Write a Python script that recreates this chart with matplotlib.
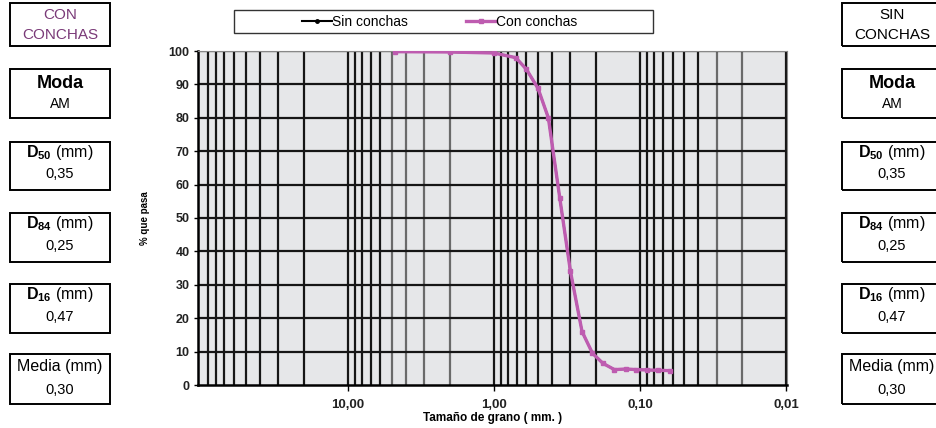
import numpy as np
import matplotlib.pyplot as plt
from matplotlib.patches import Rectangle
from matplotlib.ticker import FixedLocator, FuncFormatter, NullLocator

plt.rcParams['font.family'] = ['Liberation Sans', 'DejaVu Sans']
plt.rcParams['mathtext.fontset'] = 'custom'
plt.rcParams['mathtext.rm'] = 'Liberation Sans'
plt.rcParams['mathtext.bf'] = 'Liberation Sans:bold'

# curva granulométrica (tamaño en mm, % que pasa)
tamano = [4.75, 2.0, 1.0, 0.71, 0.6, 0.5, 0.425, 0.355, 0.3, 0.25,
          0.212, 0.18, 0.15, 0.125, 0.106, 0.09, 0.075, 0.063]
sin_conchas = [99.8, 99.7, 99.4, 98.0, 94.5, 88.8, 80.0, 56.0, 34.0, 16.0,
               9.5, 6.5, 4.6, 4.8, 4.6, 4.5, 4.4, 4.3]
con_conchas = [99.8, 99.7, 99.4, 98.0, 94.5, 88.8, 80.0, 56.0, 34.0, 16.0,
               9.5, 6.5, 4.6, 4.8, 4.6, 4.5, 4.4, 4.3]

# paneles laterales con los parámetros
titulos = ['Moda', r'$\mathbf{D_{50}}$ (mm)', r'$\mathbf{D_{84}}$ (mm)',
           r'$\mathbf{D_{16}}$ (mm)', 'Media (mm)']
valores_con = ['AM', '0,35', '0,25', '0,47', '0,30']
valores_sin = ['AM', '0,35', '0,25', '0,47', '0,30']

W, H = 937, 428
fig = plt.figure(figsize=(W / 100, H / 100), dpi=100)


def fx(px):
    return px / W


def fy(py):
    return 1 - py / H


ax = fig.add_axes([fx(198), fy(385), fx(787) - fx(198), fy(51) - fy(385)])
ax.set_facecolor('#E6E7E9')

ax.set_xscale('log')
ax.set_xlim(106, 0.0099)
ax.set_ylim(0, 100)

# rejilla: líneas en 1..9 x 10^k y cada 10 %
for dec in [10.0, 1.0, 0.1, 0.01]:
    for m in range(1, 10):
        v = m * dec
        if v <= 100:
            col = '#161616'
            if dec == 1.0 and m in (2, 3, 4, 5):
                col = '#6a6a6a'
            if dec == 0.01 and m in (2, 3):
                col = '#6a6a6a'
            ax.axvline(v, color=col, lw=1.6, zorder=1)
for yv in range(10, 101, 10):
    ax.axhline(yv, color='#161616', lw=1.6, zorder=1)

ax.plot(tamano, sin_conchas, color='black', lw=1.5, marker='o', ms=2.5,
        label='Sin conchas', zorder=3)
ax.plot(tamano, con_conchas, color='#BE5CB0', lw=2.4, marker='s', ms=2.6,
        label='Con conchas', zorder=4)

ax.xaxis.set_major_locator(FixedLocator([10, 1, 0.1, 0.01]))
ax.xaxis.set_minor_locator(NullLocator())
ax.xaxis.set_major_formatter(FuncFormatter(lambda v, p: f'{v:.2f}'.replace('.', ',')))
ax.set_yticks(range(0, 101, 10))
ax.tick_params(axis='x', direction='out', length=4, width=1, pad=6, labelsize=9.5)
ax.tick_params(axis='y', direction='out', length=3, width=1, pad=3, labelsize=9)
for lab in ax.get_xticklabels() + ax.get_yticklabels():
    lab.set_fontweight('bold')
    lab.set_color('#222222')

for s in ['left', 'bottom']:
    ax.spines[s].set_color('black')
    ax.spines[s].set_linewidth(1.8)
for s in ['top', 'right']:
    ax.spines[s].set_color('#888888')
    ax.spines[s].set_linewidth(0.8)

ax.set_xlabel('Tamaño de grano ( mm. )', fontsize=8.5, fontweight='bold')
ax.xaxis.label.set_va('center')
ax.xaxis.set_label_coords(0.5, -0.099)
ax.set_ylabel('% que pasa', fontsize=7, fontweight='bold')
ax.yaxis.label.set_va('center')
ax.yaxis.set_label_coords(-0.09, 0.5)

# leyenda con marco
fig.add_artist(Rectangle((fx(234), fy(33)), fx(653) - fx(234), fy(10) - fy(33),
                         transform=fig.transFigure, fill=True, facecolor='white',
                         edgecolor='#333333', lw=1))
fig.legend(loc='center', bbox_to_anchor=(fx(440), fy(21.5)), ncol=2, frameon=False,
           fontsize=10, handlelength=2.1, handletextpad=0.05, columnspacing=4.2)


def caja(cx, top, bottom, l1, l2, y1, y2, f1, w1, f2, color='black'):
    left = cx - 50
    fig.add_artist(Rectangle((fx(left), fy(bottom)), fx(100), fy(top) - fy(bottom),
                             transform=fig.transFigure, fill=False,
                             edgecolor='black', lw=1.4))
    fig.text(fx(cx), fy(y1), l1, ha='center', va='center', fontsize=f1,
             fontweight=w1, color=color)
    fig.text(fx(cx), fy(y2), l2, ha='center', va='center', fontsize=f2, color=color)


tops = [69, 142, 213, 284, 354]
bottoms = [118, 190, 262, 333, 404]
y1s = [84, 153, 224, 295, 367]
y2s = [104, 174, 246, 317, 390]
f1s = [13, 11.5, 11.5, 11.5, 11.5]
w1s = ['bold', 'normal', 'normal', 'normal', 'normal']
f2s = [10, 10.5, 10.5, 10.5, 10.5]

for cx, valores, cabecera in [(60, valores_con, 'CON'), (892, valores_sin, 'SIN')]:
    col = '#7A3A78' if cabecera == 'CON' else 'black'
    caja(cx, 3, 46, cabecera, 'CONCHAS', 15, 35, 11, 'normal', 11, color=col)
    for i in range(len(titulos)):
        caja(cx, tops[i], bottoms[i], titulos[i], valores[i], y1s[i], y2s[i],
             f1s[i], w1s[i], f2s[i])

fig.savefig('out.png', dpi=100)
